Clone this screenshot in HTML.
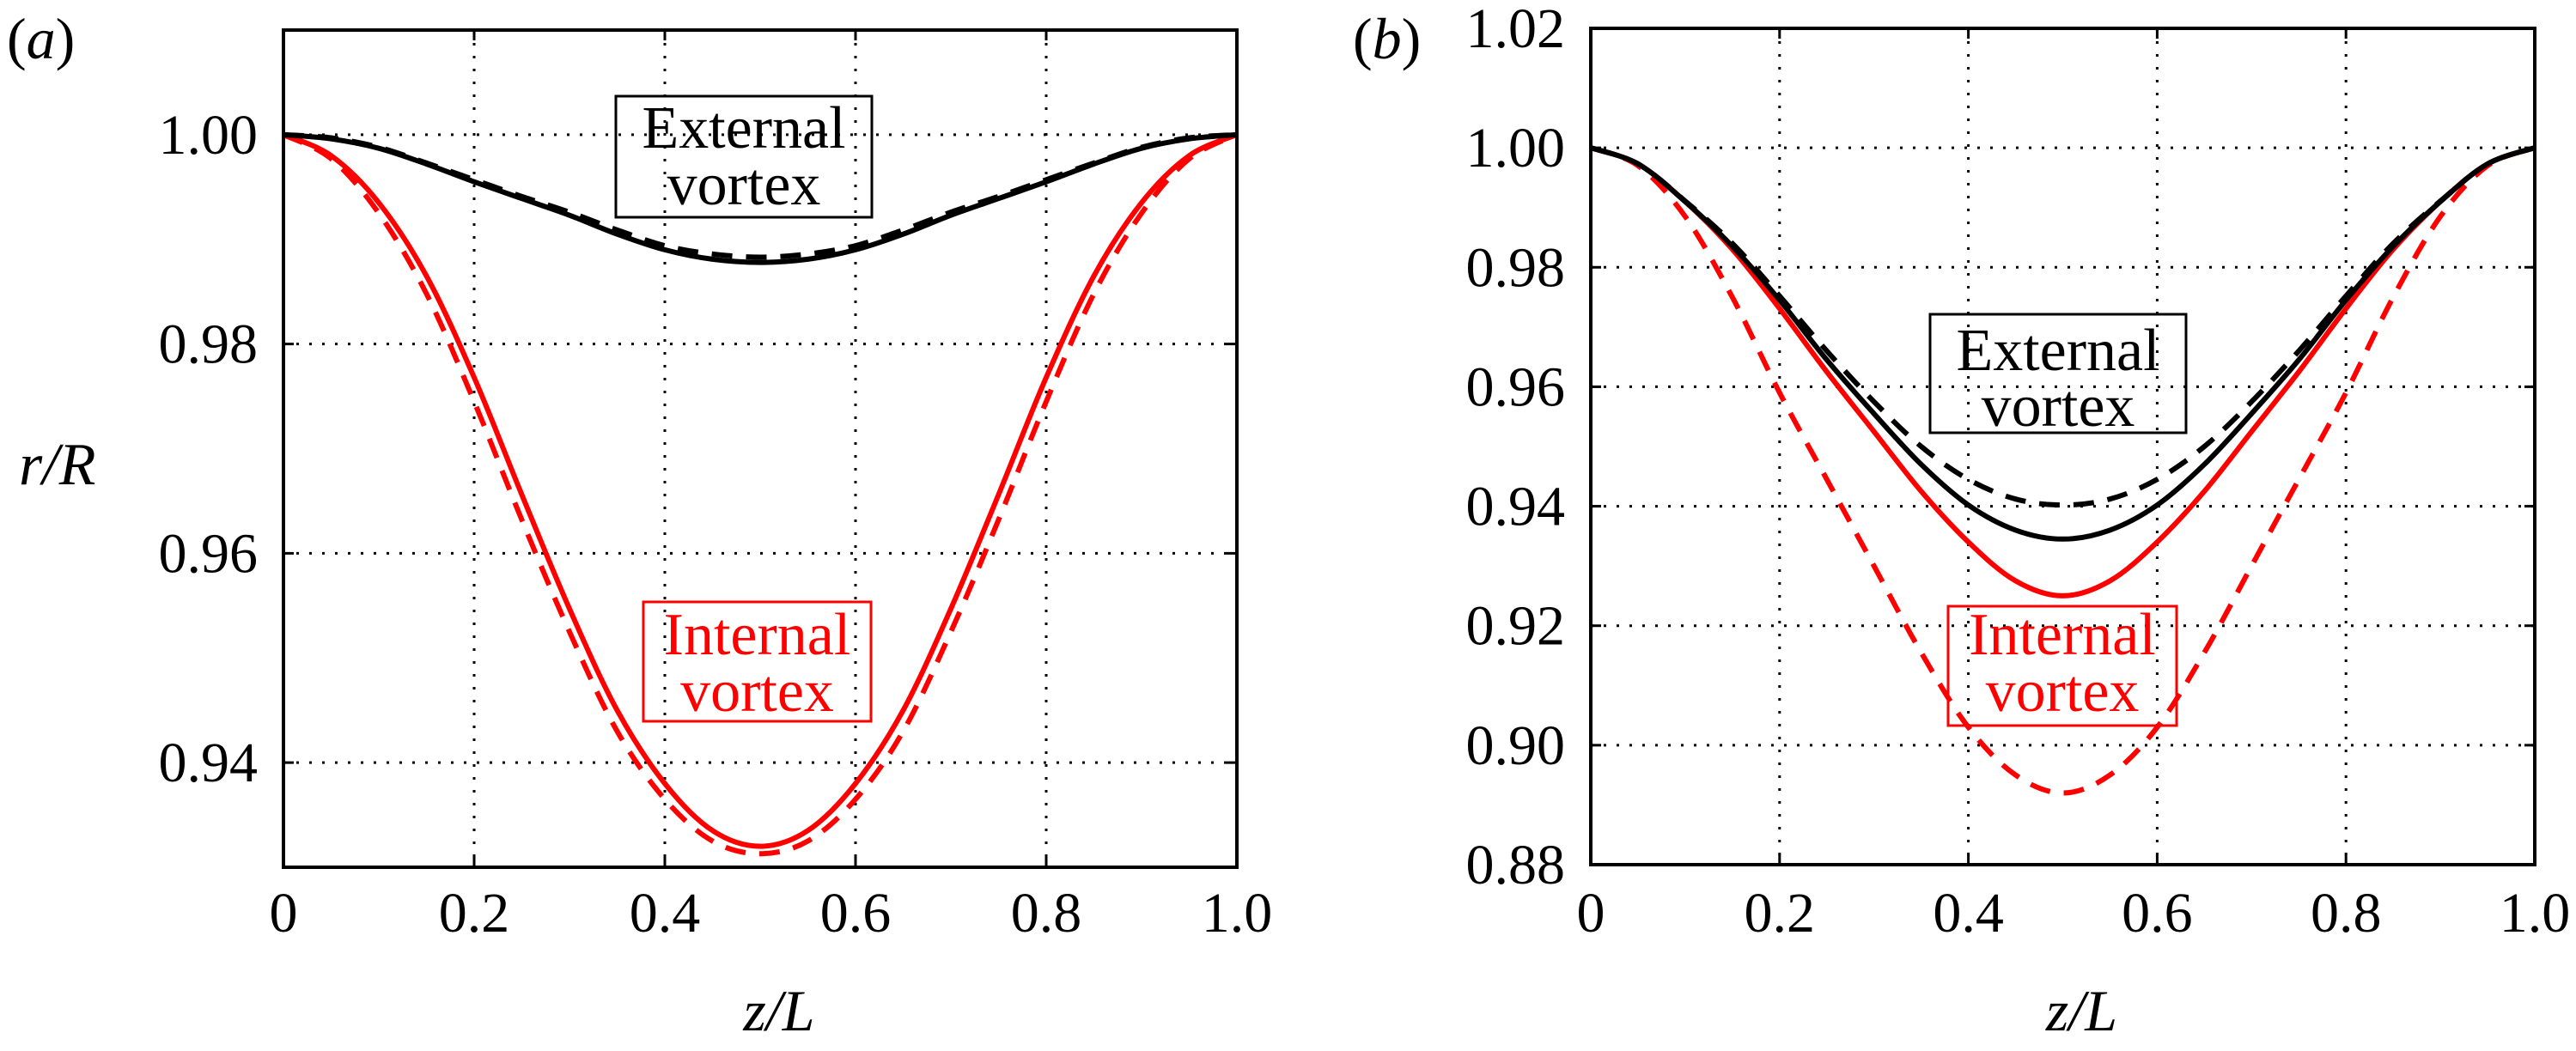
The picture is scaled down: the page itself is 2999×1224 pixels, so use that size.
<!DOCTYPE html>
<html><head><meta charset="utf-8"><style>
html,body{margin:0;padding:0;background:#fff;}
svg{display:block;}
svg text{font-family:"Liberation Serif","Times New Roman","DejaVu Serif",serif;}
</style></head><body>
<svg id="fig" width="2999" height="1224" viewBox="0 0 2999 1224" xmlns="http://www.w3.org/2000/svg" font-family="Liberation Serif, Times New Roman, DejaVu Serif, serif" style="font-family:'Liberation Serif','Times New Roman',serif">
<g id="pa"></g>
<g id="pb"></g>
</svg>
<script>
const zGrid = [0,0.05,0.1,0.15,0.2,0.25,0.3,0.35,0.4,0.45,0.5,0.55,0.6,0.65,0.7,0.75,0.8,0.85,0.9,0.95,1.0];
// Panel (a)
const aExtSolid = [1,0.9996,0.9987,0.9972,0.9955,0.9939,0.9923,0.9905,0.9890,0.9881,0.9878,0.9881,0.9890,0.9905,0.9923,0.9939,0.9955,0.9972,0.9987,0.9996,1];
const aExtDash  = [1,0.9997,0.9988,0.9973,0.9957,0.9941,0.9926,0.9909,0.9894,0.9886,0.9883,0.9886,0.9894,0.9909,0.9926,0.9941,0.9957,0.9973,0.9988,0.9997,1];
const aIntSolid = [1,0.9980,0.9935,0.9865,0.9768,0.9656,0.9547,0.9450,0.9380,0.9335,0.9320,0.9335,0.9380,0.9450,0.9547,0.9656,0.9768,0.9865,0.9935,0.9980,1];
const aIntDash  = [1,0.9977,0.9925,0.9848,0.9745,0.9632,0.9525,0.9430,0.9365,0.9325,0.9313,0.9325,0.9365,0.9430,0.9525,0.9632,0.9745,0.9848,0.9925,0.9977,1];
// Panel (b)
const bExtSolid = [1,0.9973,0.9910,0.9835,0.9745,0.9645,0.9555,0.9470,0.9402,0.9360,0.9345,0.9360,0.9402,0.9470,0.9555,0.9645,0.9745,0.9835,0.9910,0.9973,1];
const bExtDash  = [1,0.9973,0.9911,0.9840,0.9752,0.9660,0.9575,0.9500,0.9445,0.9412,0.9402,0.9412,0.9445,0.9500,0.9575,0.9660,0.9752,0.9840,0.9911,0.9973,1];
const bIntSolid = [1,0.9973,0.9910,0.9830,0.9731,0.9625,0.9525,0.9425,0.9340,0.9275,0.9250,0.9275,0.9340,0.9425,0.9525,0.9625,0.9731,0.9830,0.9910,0.9973,1];
const bIntDash  = [1,0.9970,0.9885,0.9750,0.9590,0.9445,0.9300,0.9155,0.9030,0.8950,0.8920,0.8950,0.9030,0.9155,0.9300,0.9445,0.9590,0.9750,0.9885,0.9970,1];
const xTicks = [0,0.2,0.4,0.6,0.8,1.0];
const xTickLabels = ["0","0.2","0.4","0.6","0.8","1.0"];
const aYTicks = [0.94,0.96,0.98,1.00];
const aYTickLabels = ["0.94","0.96","0.98","1.00"];
const bYTicks = [0.88,0.90,0.92,0.94,0.96,0.98,1.00,1.02];
const bYTickLabels = ["0.88","0.90","0.92","0.94","0.96","0.98","1.00","1.02"];

const NS="http://www.w3.org/2000/svg";
const FONT="'Liberation Serif','Times New Roman',serif";
function mk(parent,tag,attrs,txt){const e=document.createElementNS(NS,tag);for(const k in attrs)e.setAttribute(k,attrs[k]);if(tag==="text")e.style.fontFamily=FONT;if(txt!==undefined)e.textContent=txt;parent.appendChild(e);return e;}

function smoothPath(pts){
  let d="M"+pts[0][0].toFixed(1)+","+pts[0][1].toFixed(1);
  for(let i=0;i<pts.length-1;i++){
    const p0=pts[Math.max(0,i-1)],p1=pts[i],p2=pts[i+1],p3=pts[Math.min(pts.length-1,i+2)];
    const c1x=p1[0]+(p2[0]-p0[0])/6,c1y=p1[1]+(p2[1]-p0[1])/6;
    const c2x=p2[0]-(p3[0]-p1[0])/6,c2y=p2[1]-(p3[1]-p1[1])/6;
    d+=" C"+c1x.toFixed(1)+","+c1y.toFixed(1)+" "+c2x.toFixed(1)+","+c2y.toFixed(1)+" "+p2[0].toFixed(1)+","+p2[1].toFixed(1);
  }
  return d;
}

function panel(g,cfg){
  const X=v=>cfg.x0+(v-0)*(cfg.x1-cfg.x0);
  const Y=v=>cfg.y1-(v-cfg.ymin)/(cfg.ymax-cfg.ymin)*(cfg.y1-cfg.y0);
  xTicks.forEach((t,i)=>{
    if(i>0&&i<xTicks.length-1){
      const l=mk(g,"line",{x1:X(t),x2:X(t),y1:cfg.y0,y2:cfg.y1,stroke:"#000","stroke-width":3,"stroke-dasharray":"3 12"});
      
      
      const tk1=mk(g,"line",{x1:X(t),x2:X(t),y1:cfg.y1,y2:cfg.y1-12,stroke:"#000","stroke-width":3});
      
      
      const tk2=mk(g,"line",{x1:X(t),x2:X(t),y1:cfg.y0,y2:cfg.y0+12,stroke:"#000","stroke-width":3});
      
      
    }
    const tl=mk(g,"text",{x:X(t),y:1085,"font-size":66,"text-anchor":"middle"},xTickLabels[i]);
    
    
  });
  cfg.yt.forEach((t,i)=>{
    const yy=Y(t);
    if(yy>cfg.y0+2&&yy<cfg.y1-2){
      const l=mk(g,"line",{x1:cfg.x0,x2:cfg.x1,y1:yy,y2:yy,stroke:"#000","stroke-width":3,"stroke-dasharray":"3 12"});
      
      
      const tk1=mk(g,"line",{x1:cfg.x0,x2:cfg.x0+12,y1:yy,y2:yy,stroke:"#000","stroke-width":3});
      
      
      const tk2=mk(g,"line",{x1:cfg.x1,x2:cfg.x1-12,y1:yy,y2:yy,stroke:"#000","stroke-width":3});
      
      
    }
    const tl=mk(g,"text",{x:cfg.x0-30,y:yy+22,"font-size":66,"text-anchor":"end"},cfg.ytl[i]);
    
    
  });
  cfg.series.forEach(s=>{
    const pts=zGrid.map((z,i)=>[X(z),Y(s.data[i])]);
    const attrs={d:smoothPath(pts),fill:"none",stroke:s.color,"stroke-width":6,"stroke-linejoin":"round"};
    if(s.dash)attrs["stroke-dasharray"]="24 16";
    const p=mk(g,"path",attrs);
    
    
  });
  const fr=mk(g,"rect",{x:cfg.x0,y:cfg.y0,width:cfg.x1-cfg.x0,height:cfg.y1-cfg.y0,fill:"none",stroke:"#000","stroke-width":4});
  
  
  cfg.boxes.forEach(b=>{
    const bg=mk(g,"g",{});
    
    
    mk(bg,"rect",{x:b.x,y:b.y,width:b.w,height:b.h,fill:b.fill,stroke:b.color,"stroke-width":3});
    const cx=b.x+b.w/2;
    mk(bg,"text",{x:cx,y:b.b1,"font-size":70,"text-anchor":"middle",fill:b.color},b.t1);
    mk(bg,"text",{x:cx,y:b.b2,"font-size":70,"text-anchor":"middle",fill:b.color},b.t2);
  });
  const xl=mk(g,"text",{x:(cfg.x0+cfg.x1)/2+22,y:1200,"font-size":68,"font-style":"italic","text-anchor":"middle"},"z/L");
  
  
  const pl=mk(g,"text",{x:cfg.lx,y:68,"font-size":68},"");
  
  
  mk(pl,"tspan",{},"(");
  mk(pl,"tspan",{"font-style":"italic"},cfg.letter);
  mk(pl,"tspan",{},")");
}

panel(document.getElementById("pa"),{x0:330,x1:1440,y0:35,y1:1010,ymin:0.93,ymax:1.01,yt:aYTicks,ytl:aYTickLabels,lx:8,letter:"a",
  series:[
    {name:"internal-vortex-dashed",data:aIntDash,color:"#ff0000",dash:true},
    {name:"internal-vortex-solid",data:aIntSolid,color:"#ff0000"},
    {name:"external-vortex-dashed",data:aExtDash,color:"#000",dash:true},
    {name:"external-vortex-solid",data:aExtSolid,color:"#000"}],
  boxes:[
    {name:"external-vortex-label",x:717,y:112,w:298,h:141,color:"#000",fill:"none",t1:"External",t2:"vortex",b1:172,b2:238},
    {name:"internal-vortex-label",x:749,y:701,w:265,h:139,color:"#ff0000",fill:"none",t1:"Internal",t2:"vortex",b1:762,b2:828}]
});
panel(document.getElementById("pb"),{x0:1852,x1:2951,y0:33,y1:1007,ymin:0.88,ymax:1.02,yt:bYTicks,ytl:bYTickLabels,lx:1575,letter:"b",
  series:[
    {name:"internal-vortex-dashed",data:bIntDash,color:"#ff0000",dash:true},
    {name:"internal-vortex-solid",data:bIntSolid,color:"#ff0000"},
    {name:"external-vortex-dashed",data:bExtDash,color:"#000",dash:true},
    {name:"external-vortex-solid",data:bExtSolid,color:"#000"}],
  boxes:[
    {name:"external-vortex-label",x:2247,y:366,w:298,h:138,color:"#000",fill:"none",t1:"External",t2:"vortex",b1:431,b2:496},
    {name:"internal-vortex-label",x:2268,y:706,w:266,h:139,color:"#ff0000",fill:"none",t1:"Internal",t2:"vortex",b1:762,b2:828}]
});
const yl=mk(document.getElementById("pa"),"text",{x:22,y:564,"font-size":70,"font-style":"italic"},"r/R");


</script>
</body></html>
